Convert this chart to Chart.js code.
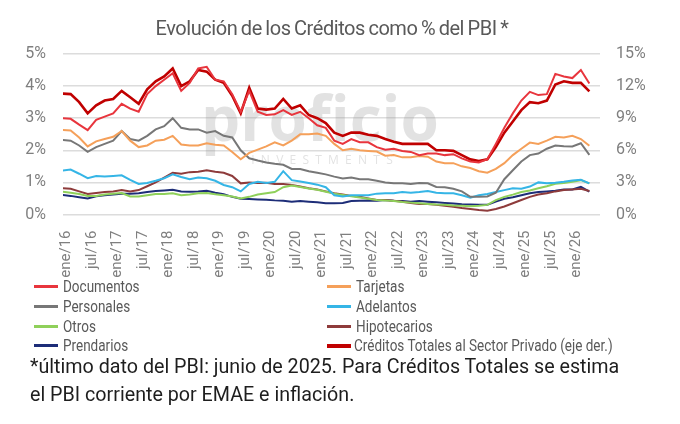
<!DOCTYPE html>
<html lang="es">
<head>
<meta charset="utf-8">
<title>Evolución de los Créditos como % del PBI</title>
<script src="https://cdn.jsdelivr.net/npm/chart.js@4.4.1/dist/chart.umd.min.js"></script>
<style>
  html, body { margin: 0; padding: 0; background: #fff; }
  body { width: 680px; height: 424px; position: relative; overflow: hidden; font-family: Roboto, "Noto Sans", sans-serif; }
  #title { position: absolute; left: 0; top: 15px; width: 664px; text-align: center; font-size: 20px; line-height: 26px;
           color: #595959; letter-spacing: -0.45px; word-spacing: -1px; }
  #chartBox { position: absolute; left: 0; top: 0; width: 680px; height: 282px; }
  #legend { position: absolute; left: 34px; top: 277px; display: grid; grid-template-columns: 293px 340px; grid-auto-rows: 19.7px;
            font-size: 16px; color: #595959; }
  .item { display: flex; align-items: center; white-space: nowrap; }
  .sw { width: 24px; height: 3px; margin-right: 5px; flex: none; }
  .txt { display: inline-block; transform: scaleX(0.845); transform-origin: left center; }
  #note { position: absolute; left: 30px; top: 353px; font-size: 19.7px; line-height: 28px; color: #1e1e1e; }
</style>
</head>
<body>
<div id="chartBox"><canvas id="creditChart"></canvas></div>
<div id="title">Evolución de los Créditos como % del PBI *</div>
<div id="legend"></div>
<div id="note">*último dato del PBI: junio de 2025. Para Créditos Totales se estima<br>el PBI corriente por EMAE e inflación.</div>
<script>
// months counted from ene/16 = 0 (one point every two months, dic/15 .. abr/26)
const months = [-1, 1, 3, 5, 7, 9, 11, 13, 15, 17, 19, 21, 23, 25, 27, 29, 31, 33, 35, 37, 39, 41, 43, 45, 47, 49, 51,
  53, 55, 57, 59, 61, 63, 65, 67, 69, 71, 73, 75, 77, 79, 81, 83, 85, 87, 89, 91, 93, 95, 97, 99, 101, 103, 105, 107,
  109, 111, 113, 115, 117, 119, 121, 123];

const tickMonths = [0, 6, 12, 18, 24, 30, 36, 42, 48, 54, 60, 66, 72, 78, 84, 90, 96, 102, 108, 114, 120];
const tickLabels = ['ene/16', 'jul/16', 'ene/17', 'jul/17', 'ene/18', 'jul/18', 'ene/19', 'jul/19', 'ene/20', 'jul/20',
  'ene/21', 'jul/21', 'ene/22', 'jul/22', 'ene/23', 'jul/23', 'ene/24', 'jul/24', 'ene/25', 'jul/25', 'ene/26'];

// % del PBI (eje izq.)
const documentos = [3.0, 2.98, 2.8, 2.63, 2.95, 3.05, 3.15, 3.45, 3.3, 3.2, 3.75, 4.0, 4.2, 4.4, 3.85, 4.1, 4.55, 4.6,
  4.2, 4.15, 3.75, 3.2, 3.85, 3.2, 3.1, 3.12, 3.25, 3.1, 3.2, 3.0, 2.78, 2.7, 2.3, 2.2, 2.35, 2.25, 2.25, 2.1, 2.02,
  2.05, 1.98, 1.95, 1.85, 1.9, 1.9, 1.85, 1.88, 1.75, 1.65, 1.62, 1.72, 2.2, 2.7, 3.15, 3.55, 3.82, 3.72, 3.75, 4.38,
  4.3, 4.25, 4.5, 4.08];
const tarjetas = [2.63, 2.62, 2.4, 2.12, 2.28, 2.35, 2.42, 2.6, 2.3, 2.1, 2.15, 2.3, 2.33, 2.45, 2.18, 2.15, 2.15, 2.22,
  2.17, 2.15, 1.95, 1.72, 1.92, 2.02, 2.12, 2.25, 2.15, 2.3, 2.5, 2.5, 2.52, 2.45, 2.2, 2.0, 2.05, 2.0, 1.98, 1.96, 1.83,
  1.85, 1.78, 1.78, 1.82, 1.8, 1.65, 1.6, 1.6, 1.5, 1.45, 1.35, 1.3, 1.42, 1.6, 1.85, 2.05, 2.24, 2.2, 2.3, 2.42, 2.4,
  2.45, 2.35, 2.14];
const personales = [2.32, 2.3, 2.15, 1.95, 2.1, 2.2, 2.3, 2.6, 2.35, 2.3, 2.45, 2.65, 2.75, 3.0, 2.7, 2.65, 2.65, 2.55,
  2.6, 2.45, 2.4, 2.0, 1.75, 1.68, 1.62, 1.58, 1.55, 1.42, 1.42, 1.35, 1.3, 1.25, 1.18, 1.12, 1.15, 1.1, 1.1, 1.05, 1.0,
  0.97, 0.97, 0.95, 0.98, 0.97, 0.86, 0.85, 0.8, 0.72, 0.55, 0.55, 0.56, 0.68, 1.1, 1.38, 1.65, 1.85, 1.9, 2.05, 2.15,
  2.13, 2.12, 2.22, 1.86];
const adelantos = [1.37, 1.4, 1.27, 1.13, 1.2, 1.18, 1.2, 1.22, 1.08, 0.95, 0.98, 1.05, 1.13, 1.25, 1.17, 1.1, 1.15, 1.13,
  1.05, 0.92, 0.85, 0.72, 0.95, 1.02, 0.98, 1.02, 1.35, 1.07, 1.03, 0.98, 0.93, 0.85, 0.6, 0.56, 0.6, 0.6, 0.6, 0.65,
  0.66, 0.66, 0.7, 0.68, 0.7, 0.73, 0.68, 0.66, 0.66, 0.6, 0.52, 0.6, 0.64, 0.7, 0.76, 0.82, 0.8, 0.87, 1.0, 0.97, 0.99,
  1.02, 1.06, 1.08, 0.97];
const otros = [0.71, 0.68, 0.64, 0.58, 0.58, 0.62, 0.65, 0.67, 0.56, 0.56, 0.6, 0.64, 0.64, 0.66, 0.6, 0.62, 0.66, 0.67,
  0.63, 0.6, 0.56, 0.5, 0.55, 0.62, 0.66, 0.7, 0.85, 0.9, 0.86, 0.81, 0.77, 0.71, 0.65, 0.61, 0.57, 0.53, 0.49, 0.45,
  0.44, 0.42, 0.39, 0.37, 0.35, 0.33, 0.31, 0.3, 0.28, 0.27, 0.26, 0.27, 0.3, 0.45, 0.55, 0.62, 0.7, 0.75, 0.82, 0.88,
  0.96, 0.98, 1.02, 1.07, 0.97];
const hipotecarios = [0.82, 0.8, 0.72, 0.64, 0.67, 0.7, 0.72, 0.76, 0.72, 0.76, 0.88, 1.0, 1.15, 1.3, 1.27, 1.32, 1.33,
  1.38, 1.33, 1.3, 1.2, 0.97, 1.0, 0.98, 0.99, 0.95, 0.95, 0.92, 0.87, 0.82, 0.78, 0.72, 0.66, 0.62, 0.58, 0.55, 0.5,
  0.45, 0.45, 0.43, 0.4, 0.36, 0.33, 0.33, 0.3, 0.27, 0.24, 0.2, 0.17, 0.14, 0.12, 0.17, 0.25, 0.35, 0.45, 0.55, 0.62,
  0.66, 0.72, 0.76, 0.78, 0.8, 0.73];
const prendarios = [0.61, 0.58, 0.54, 0.5, 0.57, 0.6, 0.62, 0.65, 0.65, 0.66, 0.7, 0.73, 0.75, 0.77, 0.72, 0.71, 0.72,
  0.74, 0.68, 0.63, 0.55, 0.49, 0.48, 0.47, 0.46, 0.44, 0.43, 0.4, 0.42, 0.4, 0.38, 0.35, 0.35, 0.36, 0.42, 0.43, 0.44,
  0.43, 0.45, 0.43, 0.42, 0.4, 0.42, 0.4, 0.38, 0.36, 0.34, 0.32, 0.31, 0.3, 0.3, 0.4, 0.49, 0.54, 0.6, 0.66, 0.7, 0.72,
  0.74, 0.78, 0.78, 0.86, 0.71];
// % del PBI (eje der.)
const totales = [11.3, 11.25, 10.5, 9.45, 10.2, 10.65, 10.8, 11.55, 10.95, 10.35, 11.7, 12.45, 12.9, 13.65, 12.0, 12.45,
  13.5, 13.35, 12.6, 12.3, 11.1, 9.45, 11.85, 9.9, 9.8, 9.9, 10.8, 9.9, 10.2, 9.3, 9.0, 8.55, 7.65, 7.35, 7.65, 7.65,
  7.45, 7.35, 7.05, 6.8, 6.6, 6.6, 6.6, 6.6, 6.0, 6.0, 5.95, 5.55, 5.15, 5.0, 5.15, 6.3, 7.65, 8.7, 9.75, 10.5, 10.4,
  10.65, 12.15, 12.45, 12.3, 12.3, 11.5];

const seriesNames = ['Documentos', 'Tarjetas', 'Personales', 'Adelantos', 'Otros', 'Hipotecarios', 'Prendarios',
  'Créditos Totales al Sector Privado (eje der.)'];
const seriesValues = [documentos, tarjetas, personales, adelantos, otros, hipotecarios, prendarios, totales];
const seriesColors = ['#e8353d', '#f5a05a', '#777777', '#35b5e6', '#8fd05a', '#8e3b3b', '#1d2d78', '#c00000'];

function toPoints(values) {
    return values.map((v, i) => ({ x: months[i], y: v }));
}

const watermark = {
    id: 'watermark',
    beforeDatasetsDraw(chart) {
        const ctx = chart.ctx;
        ctx.save();
        ctx.fillStyle = 'rgba(150,150,150,0.28)';
        ctx.textAlign = 'center';
        ctx.font = 'bold 62px "Open Sans"';
        ctx.fillText('proficio', 320, 141);
        ctx.font = '12px "Open Sans"';
        ctx.fillText('I  N  V  E  S  T  M  E  N  T  S', 322, 164);
        ctx.restore();
    }
};

const datasets = seriesNames.map((name, i) => ({
    label: name,
    data: toPoints(seriesValues[i]),
    borderColor: seriesColors[i],
    backgroundColor: seriesColors[i],
    borderWidth: i === 7 ? 2.6 : 2,
    pointRadius: 0,
    tension: 0,
    yAxisID: i === 7 ? 'y1' : 'y'
}));

const tickColor = '#7f7f7f';

new Chart(document.getElementById('creditChart'), {
    type: 'line',
    data: { datasets: datasets },
    options: {
        responsive: true,
        maintainAspectRatio: false,
        animation: false,
        layout: { padding: { top: 54 } },
        plugins: {
            legend: { display: false },
            tooltip: { enabled: false },
            title: { display: false }
        },
        scales: {
            x: {
                type: 'linear',
                min: -0.8,
                max: 125.5,
                grid: { display: false },
                border: { display: false },
                afterBuildTicks: function(axis) {
                    axis.ticks = tickMonths.map(v => ({ value: v }));
                },
                afterFit: function(axis) { axis.height = 67.5; },
                ticks: {
                    autoSkip: false,
                    minRotation: 90,
                    maxRotation: 90,
                    padding: 8,
                    color: tickColor,
                    font: { family: 'Roboto', size: 15 },
                    callback: function(value) {
                        return tickLabels[tickMonths.indexOf(value)];
                    }
                }
            },
            y: {
                position: 'left',
                min: 0,
                max: 5,
                afterFit: function(axis) { axis.width = 63; },
                grid: { color: '#dcdcdc', lineWidth: 1.5, drawTicks: false },
                border: { display: false },
                ticks: {
                    stepSize: 1,
                    padding: 17,
                    color: tickColor,
                    font: { family: 'Roboto', size: 16 },
                    callback: v => v + '%'
                }
            },
            y1: {
                position: 'right',
                min: 0,
                max: 15,
                afterFit: function(axis) { axis.width = 80; },
                grid: { display: false, drawTicks: false },
                border: { display: false },
                ticks: {
                    stepSize: 3,
                    padding: 16,
                    color: tickColor,
                    font: { family: 'Roboto', size: 16 },
                    callback: v => v + '%'
                }
            }
        }
    },
    plugins: [watermark]
});

// two-column legend under the chart
const legendBox = document.getElementById('legend');
seriesNames.forEach((name, i) => {
    const item = document.createElement('div');
    item.className = 'item';
    const sw = document.createElement('span');
    sw.className = 'sw';
    sw.style.background = seriesColors[i];
    if (i === 7) { sw.style.height = '3.5px'; sw.style.marginRight = '3px'; }
    const txt = document.createElement('span');
    txt.className = 'txt';
    txt.textContent = name;
    item.appendChild(sw);
    item.appendChild(txt);
    legendBox.appendChild(item);
});
</script>
</body>
</html>
